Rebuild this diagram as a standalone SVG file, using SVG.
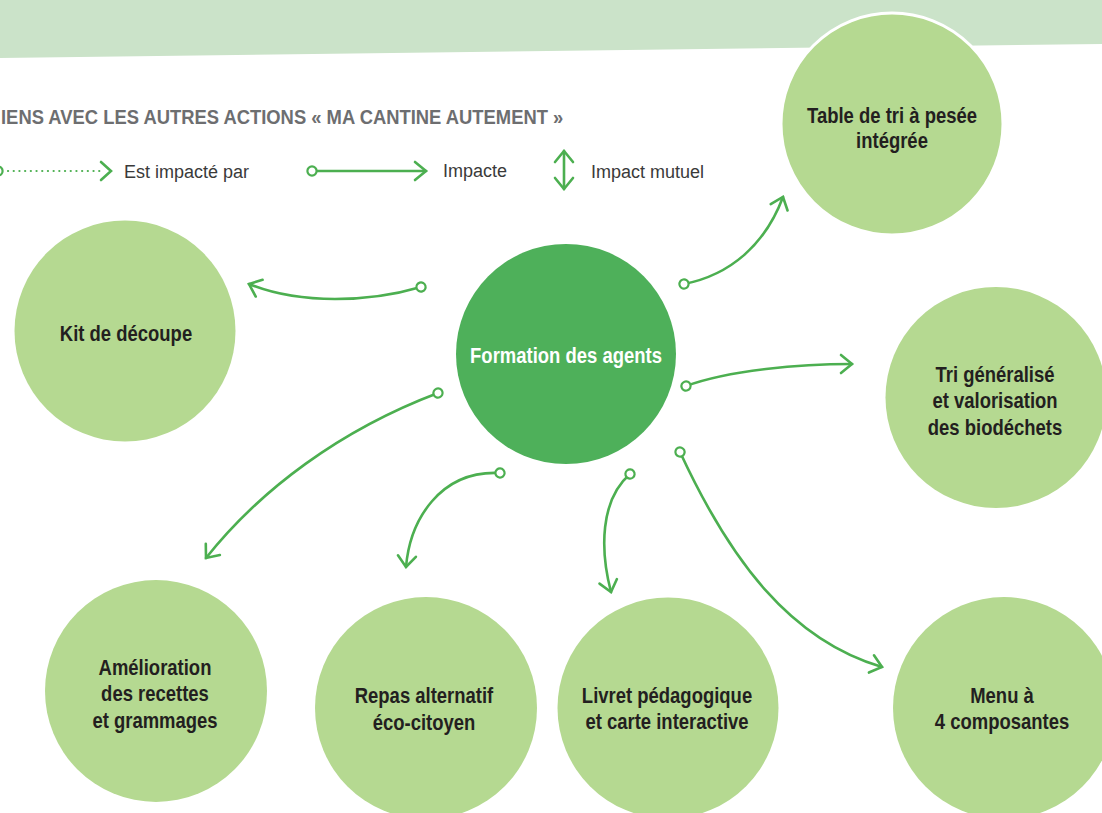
<svg xmlns="http://www.w3.org/2000/svg" width="1102" height="813" viewBox="0 0 1102 813">
<defs>
<style>
.band{fill:#cbe3c9}
.light{fill:#b5d991}
.dark{fill:#4eb05a}
.lbl{font-family:"Liberation Sans",Arial,sans-serif;font-weight:bold;font-size:22px;fill:#231f20;text-anchor:middle}
.lblw{fill:#ffffff}
.title{font-family:"Liberation Sans",Arial,sans-serif;font-weight:bold;font-size:21px;fill:#6d6e70}
.leg{font-family:"Liberation Sans",Arial,sans-serif;font-size:18px;fill:#3a3a3a}
.con{fill:none;stroke:#4caf50;stroke-width:2.6;stroke-linecap:round}
.dot{fill:none;stroke:#4caf50;stroke-width:2.2;stroke-linecap:round;stroke-dasharray:0.1 5.6}
</style>
<marker id="arr" viewBox="-13 -11 16 22" refX="0" refY="0" markerWidth="16" markerHeight="22" markerUnits="userSpaceOnUse" orient="auto-start-reverse">
<path d="M-11,-9 L0,0 L-11,9" fill="none" stroke="#4caf50" stroke-width="2.6" stroke-linecap="round" stroke-linejoin="miter"/>
</marker>
<marker id="ring" viewBox="-7 -7 14 14" refX="0" refY="0" markerWidth="14" markerHeight="14" markerUnits="userSpaceOnUse" orient="auto">
<circle cx="0" cy="0" r="4.6" fill="#ffffff" stroke="#4caf50" stroke-width="2.2"/>
</marker>
</defs>
<rect width="1102" height="813" fill="#ffffff"/>
<polygon class="band" points="0,0 1102,0 1102,44 0,58"/>
<g id="title">
<text class="title" transform="translate(1,124) scale(0.876,1)" x="0" y="0">IENS AVEC LES AUTRES ACTIONS « MA CANTINE AUTEMENT »</text>
</g>
<g id="legend">
<path class="dot" d="M8,171 L100,171"/>
<circle cx="-2" cy="171" r="4.6" fill="#ffffff" stroke="#4caf50" stroke-width="2.2"/>
<path d="M101,162 L111,171 L101,180" fill="none" stroke="#4caf50" stroke-width="2.6" stroke-linecap="round"/>
<text class="leg" x="124" y="178">Est impacté par</text>
<path class="con" d="M312,171 L426,171" marker-start="url(#ring)" marker-end="url(#arr)"/>
<text class="leg" x="443" y="177">Impacte</text>
<path class="con" d="M564,151 L564,189" marker-start="url(#arr)" marker-end="url(#arr)"/>
<text class="leg" x="591" y="178">Impact mutuel</text>
</g>
<g id="connectors">
<path class="con" d="M421,287 C370,302 300,305 249,284" marker-start="url(#ring)" marker-end="url(#arr)"/>
<path class="con" d="M684,284 C730,275 765,245 783,197" marker-start="url(#ring)" marker-end="url(#arr)"/>
<path class="con" d="M686,386 C730,370 800,364 852,364" marker-start="url(#ring)" marker-end="url(#arr)"/>
<path class="con" d="M438,393 C340,430 260,490 206,558" marker-start="url(#ring)" marker-end="url(#arr)"/>
<path class="con" d="M500,473 C440,470 410,520 406,567" marker-start="url(#ring)" marker-end="url(#arr)"/>
<path class="con" d="M630,474 C600,500 600,550 611,592" marker-start="url(#ring)" marker-end="url(#arr)"/>
<path class="con" d="M680,452 C730,560 790,640 882,667" marker-start="url(#ring)" marker-end="url(#arr)"/>
</g>
<g id="table-tri">
<circle class="light" cx="892" cy="124" r="111" stroke="#ffffff" stroke-width="3"/>
<text class="lbl" transform="translate(892,123) scale(0.84,1)" x="0" y="0">Table de tri à pesée</text>
<text class="lbl" transform="translate(892,148) scale(0.84,1)" x="0" y="0">intégrée</text>
</g>
<g id="kit">
<circle class="light" cx="125" cy="331" r="110.5"/>
<text class="lbl" transform="translate(126,341) scale(0.84,1)" x="0" y="0">Kit de découpe</text>
</g>
<g id="formation">
<circle class="dark" cx="566" cy="354" r="110"/>
<text class="lbl lblw" transform="translate(566,363) scale(0.84,1)" x="0" y="0">Formation des agents</text>
</g>
<g id="tri-generalise">
<circle class="light" cx="996" cy="397.5" r="110.5"/>
<text class="lbl" transform="translate(995,382) scale(0.84,1)" x="0" y="0">Tri généralisé</text>
<text class="lbl" transform="translate(995,408) scale(0.84,1)" x="0" y="0">et valorisation</text>
<text class="lbl" transform="translate(995,435) scale(0.84,1)" x="0" y="0">des biodéchets</text>
</g>
<g id="amelioration">
<circle class="light" cx="156" cy="691" r="111"/>
<text class="lbl" transform="translate(155,675) scale(0.84,1)" x="0" y="0">Amélioration</text>
<text class="lbl" transform="translate(155,701) scale(0.84,1)" x="0" y="0">des recettes</text>
<text class="lbl" transform="translate(155,728) scale(0.84,1)" x="0" y="0">et grammages</text>
</g>
<g id="repas">
<circle class="light" cx="426" cy="708" r="111"/>
<text class="lbl" transform="translate(424,703) scale(0.84,1)" x="0" y="0">Repas alternatif</text>
<text class="lbl" transform="translate(424,730) scale(0.84,1)" x="0" y="0">éco-citoyen</text>
</g>
<g id="livret">
<circle class="light" cx="668" cy="708" r="110.5"/>
<text class="lbl" transform="translate(667,703) scale(0.84,1)" x="0" y="0">Livret pédagogique</text>
<text class="lbl" transform="translate(667,729) scale(0.84,1)" x="0" y="0">et carte interactive</text>
</g>
<g id="menu">
<circle class="light" cx="1004" cy="708" r="111"/>
<text class="lbl" transform="translate(1002,703) scale(0.84,1)" x="0" y="0">Menu à</text>
<text class="lbl" transform="translate(1002,729) scale(0.84,1)" x="0" y="0">4 composantes</text>
</g>
</svg>
